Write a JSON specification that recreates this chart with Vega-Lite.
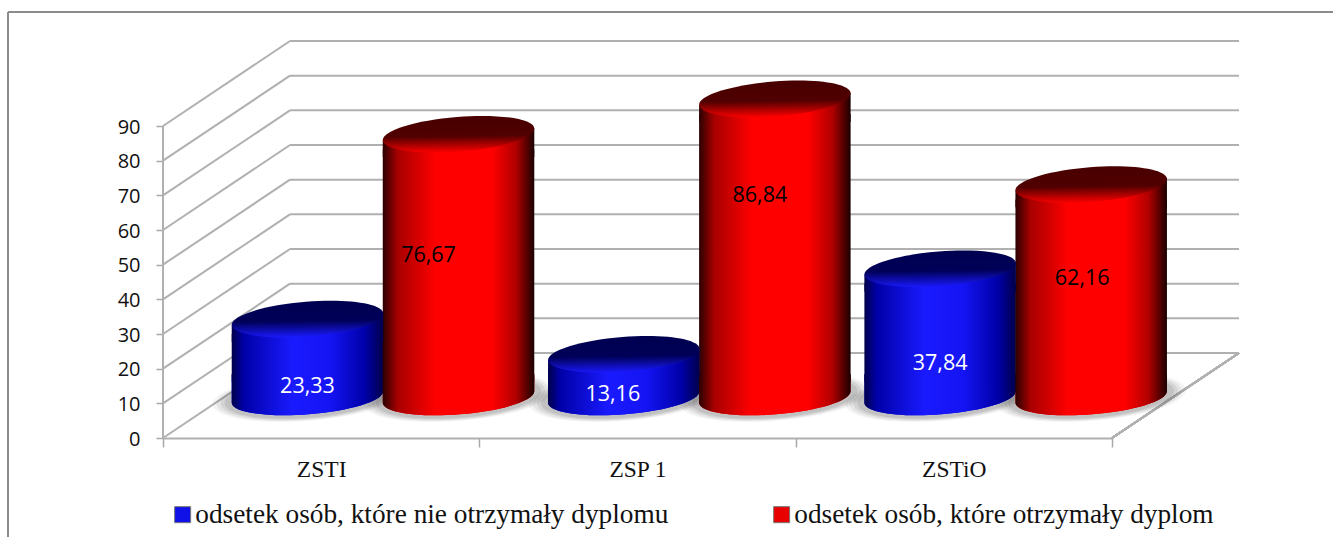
{
"$schema":"https://vega.github.io/schema/vega-lite/v6.json",
"width":949,"height":312,
"autosize":{"type":"none"},
"padding":{"left":163,"top":126,"right":221,"bottom":99},
"background":"white",
"config":{"view":{"stroke":null},"axisY":{"tickCount":10,"grid":false,"domain":false,"labelOverlap":false,"labelOffset":1,"tickColor":"#a8a8a8","tickSize":7,"tickWidth":1.5,"labelFont":"Open Sans","labelFontSize":20,"labelColor":"#111","labelPadding":16}},
"datasets":{
"ticks":[{"tick":0},{"tick":10},{"tick":20},{"tick":30},{"tick":40},{"tick":50},{"tick":60},{"tick":70},{"tick":80},{"tick":90}],
"rows":[
{"szkola":"ZSTI","seria":"odsetek osób, które nie otrzymały dyplomu","odsetek":23.33,"etykieta":"23,33"},
{"szkola":"ZSTI","seria":"odsetek osób, które otrzymały dyplom","odsetek":76.67,"etykieta":"76,67"},
{"szkola":"ZSP 1","seria":"odsetek osób, które nie otrzymały dyplomu","odsetek":13.16,"etykieta":"13,16"},
{"szkola":"ZSP 1","seria":"odsetek osób, które otrzymały dyplom","odsetek":86.84,"etykieta":"86,84"},
{"szkola":"ZSTiO","seria":"odsetek osób, które nie otrzymały dyplomu","odsetek":37.84,"etykieta":"37,84"},
{"szkola":"ZSTiO","seria":"odsetek osób, które otrzymały dyplom","odsetek":62.16,"etykieta":"62,16"}
]},
"resolve":{"scale":{"x":"independent"},"axis":{"x":"independent"}},
"layer":[
{
"data":{"name":"ticks"},
"encoding":{"y":{"field":"tick","type":"quantitative","title":null,"scale":{"domain":[0,90],"nice":false,"zero":false}}},
"layer":[
{"mark":{"type":"rule","color":"#b0b0b0","strokeWidth":2,"y2Offset":-85},
 "encoding":{"x":{"datum":0,"type":"quantitative","scale":{"domain":[0,949],"nice":false,"zero":false},"axis":null},"x2":{"datum":127},"y2":{"field":"tick"}}},
{"mark":{"type":"rule","color":"#b0b0b0","strokeWidth":2,"yOffset":-85},
 "encoding":{"x":{"datum":127,"type":"quantitative","axis":null},"x2":{"datum":1076}}},
{"mark":{"type":"rule","color":"#b0b0b0","strokeWidth":2},
 "encoding":{"x":{"datum":0,"type":"quantitative","axis":null},"y":{"datum":0,"type":"quantitative","title":null},"y2":{"datum":90}}},
{"mark":{"type":"rule","color":"#b0b0b0","strokeWidth":2,"y2Offset":-85},
 "encoding":{"x":{"datum":949,"type":"quantitative","axis":null},"x2":{"datum":1076},"y":{"datum":0,"type":"quantitative","title":null},"y2":{"datum":0}}},
{"mark":{"type":"rule","color":"#8c8c8c","strokeWidth":1.2},
 "encoding":{"x":{"datum":-155,"type":"quantitative","axis":null},"x2":{"datum":1170},"y":{"datum":122.9,"type":"quantitative","title":null}}},
{"mark":{"type":"rule","color":"#8c8c8c","strokeWidth":1.2},
 "encoding":{"x":{"datum":-155,"type":"quantitative","axis":null},"y":{"datum":122.9,"type":"quantitative","title":null},"y2":{"datum":-28.6}}}
]
},
{
"data":{"name":"rows"},
"encoding":{
 "x":{"field":"szkola","type":"nominal","sort":["ZSTI","ZSP 1","ZSTiO"],"scale":{"type":"band","paddingInner":0,"paddingOuter":0},
  "axis":{"title":null,"labelAngle":0,"tickBand":"extent","tickColor":"#a8a8a8","tickSize":9,"tickWidth":1.5,"domainColor":"#b0b0b0","domainWidth":2,"labelFont":"Liberation Serif","labelFontSize":23.5,"labelColor":"#111","labelPadding":10}},
 "xOffset":{"field":"seria","type":"nominal","sort":["odsetek osób, które nie otrzymały dyplomu","odsetek osób, które otrzymały dyplom"],"scale":{"type":"band","range":[62,378],"paddingInner":0,"paddingOuter":0.046}},
 "y":{"field":"odsetek","type":"quantitative","title":null}
},
"layer":[
{"mark":{"type":"point","filled":true,"strokeWidth":0,"color":"#444","opacity":0.06,"size":36100,"yOffset":-41,"shape":"M-0.9969,0.0785 A1,0.25,-4.5,1,1,0.9969,-0.0785 A1,0.25,-4.5,1,1,-0.9969,0.0785 Z"},
 "encoding":{"y":{"datum":0,"type":"quantitative","title":null}}},
{"mark":{"type":"point","filled":true,"strokeWidth":0,"color":"#444","opacity":0.08,"size":33124,"yOffset":-41,"shape":"M-0.9969,0.0785 A1,0.25,-4.5,1,1,0.9969,-0.0785 A1,0.25,-4.5,1,1,-0.9969,0.0785 Z"},
 "encoding":{"y":{"datum":0,"type":"quantitative","title":null}}},
{"mark":{"type":"point","filled":true,"strokeWidth":0,"color":"#444","opacity":0.1,"size":30276,"yOffset":-41,"shape":"M-0.9969,0.0785 A1,0.25,-4.5,1,1,0.9969,-0.0785 A1,0.25,-4.5,1,1,-0.9969,0.0785 Z"},
 "encoding":{"y":{"datum":0,"type":"quantitative","title":null}}},
{"mark":{"type":"point","filled":true,"strokeWidth":0,"color":"#444","opacity":0.12,"size":27556,"yOffset":-41,"shape":"M-0.9969,0.0785 A1,0.25,-4.5,1,1,0.9969,-0.0785 A1,0.25,-4.5,1,1,-0.9969,0.0785 Z"},
 "encoding":{"y":{"datum":0,"type":"quantitative","title":null}}},
{"mark":{"type":"point","filled":true,"opacity":1,"strokeWidth":0,"size":23104,"yOffset":-41,"shape":"M-0.9969,-0.3 L0.9969,-0.3 L0.9969,-0.0785 A1,0.23,-4.5,0,1,-0.9969,0.0785 Z"},
 "encoding":{"y":{"datum":0,"type":"quantitative","title":null},
  "color":{"field":"seria","type":"nominal","scale":{"domain":["odsetek osób, które nie otrzymały dyplomu","odsetek osób, które otrzymały dyplom"],"range":["#1010e8","#e80000"]},
   "legend":{"title":null,"orient":"none","legendX":6,"legendY":375,"direction":"horizontal","columns":2,"columnPadding":99,"symbolType":"square","symbolSize":256,"symbolStrokeColor":"#777","symbolStrokeWidth":1,"labelFont":"Liberation Serif","labelFontSize":27.3,"labelColor":"#111","labelOffset":-1,"labelLimit":600}}}},
{"mark":{"type":"point","filled":true,"opacity":1,"strokeWidth":0,"size":23104,"yOffset":-41,"shape":"M-0.9969,-0.3 L0.9969,-0.3 L0.9969,-0.0785 A1,0.23,-4.5,0,1,-0.9969,0.0785 Z"},
 "encoding":{"y":{"datum":0,"type":"quantitative","title":null},
  "fill":{"condition":{"test":"indexof(datum.seria,'nie')>=0","value":{"gradient":"linear","stops":[{"offset":0,"color":"#00004a"},{"offset":0.08,"color":"#0000a8"},{"offset":0.4,"color":"#1a1aff"},{"offset":0.65,"color":"#1414f4"},{"offset":0.88,"color":"#0000a8"},{"offset":1,"color":"#00004a"}]}},
   "value":{"gradient":"linear","stops":[{"offset":0,"color":"#2a0000"},{"offset":0.1,"color":"#a80000"},{"offset":0.35,"color":"#ff0000"},{"offset":0.72,"color":"#ff0000"},{"offset":0.88,"color":"#b00000"},{"offset":1,"color":"#1a0000"}]}}}},
{"mark":{"type":"bar","opacity":1,"width":151.5,"yOffset":-23,"y2Offset":-56},
 "encoding":{"y2":{"datum":0},
  "fill":{"condition":{"test":"indexof(datum.seria,'nie')>=0","value":{"gradient":"linear","stops":[{"offset":0,"color":"#00004a"},{"offset":0.08,"color":"#0000a8"},{"offset":0.4,"color":"#1a1aff"},{"offset":0.65,"color":"#1414f4"},{"offset":0.88,"color":"#0000a8"},{"offset":1,"color":"#00004a"}]}},
   "value":{"gradient":"linear","stops":[{"offset":0,"color":"#2a0000"},{"offset":0.1,"color":"#a80000"},{"offset":0.35,"color":"#ff0000"},{"offset":0.72,"color":"#ff0000"},{"offset":0.88,"color":"#b00000"},{"offset":1,"color":"#1a0000"}]}}}},
{"mark":{"type":"point","filled":true,"opacity":1,"strokeWidth":0,"size":23104,"yOffset":-38,"shape":"M-0.9969,0.0785 L0.9969,-0.0785 L0.9969,0.3 L-0.9969,0.3 Z"},
 "encoding":{
  "fill":{"condition":{"test":"indexof(datum.seria,'nie')>=0","value":{"gradient":"linear","stops":[{"offset":0,"color":"#00004a"},{"offset":0.08,"color":"#0000a8"},{"offset":0.4,"color":"#1a1aff"},{"offset":0.65,"color":"#1414f4"},{"offset":0.88,"color":"#0000a8"},{"offset":1,"color":"#00004a"}]}},
   "value":{"gradient":"linear","stops":[{"offset":0,"color":"#2a0000"},{"offset":0.1,"color":"#a80000"},{"offset":0.35,"color":"#ff0000"},{"offset":0.72,"color":"#ff0000"},{"offset":0.88,"color":"#b00000"},{"offset":1,"color":"#1a0000"}]}}}},
{"mark":{"type":"point","filled":true,"opacity":1,"strokeWidth":0,"size":23104,"yOffset":-38,"shape":"M-0.9969,0.0785 A1,0.23,-4.5,0,1,0.9969,-0.0785 A1,0.23,-4.5,0,1,-0.9969,0.0785 Z"},
 "encoding":{
  "fill":{"condition":{"test":"indexof(datum.seria,'nie')>=0","value":{"gradient":"linear","x1":0.47,"y1":0,"x2":0.53,"y2":1,"stops":[{"offset":0,"color":"#000050"},{"offset":0.55,"color":"#000058"},{"offset":1,"color":"#1a1aff"}]}},
   "value":{"gradient":"linear","x1":0.47,"y1":0,"x2":0.53,"y2":1,"stops":[{"offset":0,"color":"#480000"},{"offset":0.55,"color":"#500000"},{"offset":1,"color":"#ff0000"}]}}}},
{"transform":[{"filter":"datum.etykieta=='23,33'"}],"mark":{"type":"text","font":"Open Sans","fontSize":21.5,"color":"white","dy":30},"encoding":{"text":{"field":"etykieta"}}},
{"transform":[{"filter":"datum.etykieta=='13,16'"}],"mark":{"type":"text","font":"Open Sans","fontSize":21.5,"color":"white","dx":-11,"dy":3},"encoding":{"text":{"field":"etykieta"}}},
{"transform":[{"filter":"datum.etykieta=='37,84'"}],"mark":{"type":"text","font":"Open Sans","fontSize":21.5,"color":"white","dy":57},"encoding":{"text":{"field":"etykieta"}}},
{"transform":[{"filter":"datum.etykieta=='76,67'"}],"mark":{"type":"text","font":"Open Sans","fontSize":21.5,"color":"black","dx":-30,"dy":84},"encoding":{"text":{"field":"etykieta"}}},
{"transform":[{"filter":"datum.etykieta=='86,84'"}],"mark":{"type":"text","font":"Open Sans","fontSize":21.5,"color":"black","dx":-15,"dy":59},"encoding":{"text":{"field":"etykieta"}}},
{"transform":[{"filter":"datum.etykieta=='62,16'"}],"mark":{"type":"text","font":"Open Sans","fontSize":21.5,"color":"black","dx":-9,"dy":56.5},"encoding":{"text":{"field":"etykieta"}}}
]
}
]
}
